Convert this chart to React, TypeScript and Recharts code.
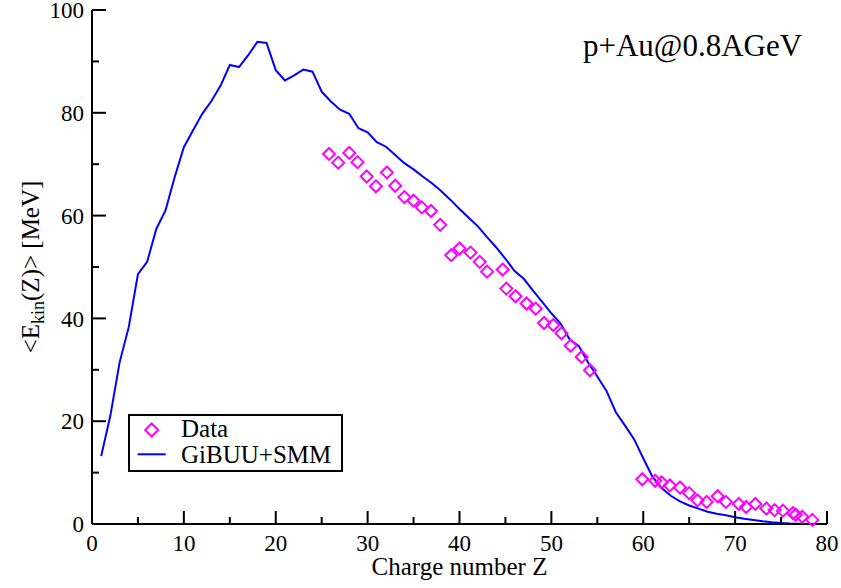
import React from 'react';
import { ComposedChart, Line, Scatter, XAxis, YAxis, Legend, Customized } from 'recharts';

// GiBUU+SMM model curve, one point per charge number
const modelZ = [
  1, 2, 3, 4, 5, 6, 7, 8, 9, 10, 11, 12, 13, 14, 15, 16, 17, 18, 19, 20,
  21, 22, 23, 24, 25, 26, 27, 28, 29, 30, 31, 32, 33, 34, 35, 36, 37, 38, 39, 40,
  41, 42, 43, 44, 45, 46, 47, 48, 49, 50, 51, 52, 53, 54, 55, 56, 57, 58, 59, 60,
  61, 62, 63, 64, 65, 66, 67, 68, 69, 70, 71, 72, 73, 74, 75, 76, 77,
];
const modelE = [
  13.2, 21.1, 31.4, 38.3, 48.6, 51.0, 57.4, 61.0, 67.5, 73.3, 76.6, 79.8, 82.3, 85.3, 89.3, 88.9, 91.2, 93.8, 93.6, 88.3,
  86.3, 87.3, 88.4, 88.0, 84.1, 82.2, 80.6, 79.8, 77.0, 76.2, 74.3, 73.4, 71.8, 70.2, 69.0, 67.6, 66.3, 64.8, 63.1, 61.3,
  59.6, 57.9, 55.8, 53.8, 51.6, 49.2, 47.7, 45.4, 43.2, 41.0, 39.0, 35.9, 34.6, 31.4, 28.7, 25.9, 21.8, 19.2, 16.5, 12.8,
  9.2, 7.0, 5.5, 4.4, 3.6, 3.0, 2.4, 2.0, 1.7, 1.3, 1.0, 0.8, 0.55, 0.35, 0.2, 0.1, 0.05,
];

// measured data
const dataZ = [
  25.8, 26.8, 28.0, 28.9, 29.9, 30.9, 32.1, 33.0, 34.0, 35.0, 35.9, 36.9, 37.9, 39.1, 40.0, 41.2, 42.2, 43.0, 44.7, 45.1,
  46.1, 47.3, 48.3, 49.2, 50.2, 51.1, 52.1, 53.3, 54.2, 59.9, 61.3, 62.0, 62.9, 64.0, 65.0, 65.9, 66.9, 68.1, 69.0, 70.4,
  71.2, 72.2, 73.4, 74.3, 75.2, 76.3, 76.6, 77.3, 78.4,
];
const dataE = [
  72.0, 70.3, 72.2, 70.4, 67.6, 65.7, 68.4, 65.8, 63.6, 62.9, 61.6, 60.9, 58.2, 52.3, 53.6, 52.8, 51.0, 49.1, 49.5, 45.8,
  44.3, 42.9, 41.9, 39.1, 38.7, 37.1, 34.7, 32.5, 29.9, 8.7, 8.4, 8.1, 7.5, 7.1, 6.0, 4.6, 4.3, 5.4, 4.3, 3.9,
  3.3, 3.9, 3.0, 2.7, 2.6, 2.1, 1.8, 1.4, 0.8,
];

const xTicks = [0, 5, 10, 15, 20, 25, 30, 35, 40, 45, 50, 55, 60, 65, 70, 75, 80];
const yTicks = [0, 10, 20, 30, 40, 50, 60, 70, 80, 90, 100];

const modelRows = modelZ.map((z, i) => ({ z, e: modelE[i] }));
const dataRows = dataZ.map((z, i) => ({ z, e: dataE[i] }));

const FONT = '"Liberation Serif", "Times New Roman", serif';
const BLUE = '#0000ff';
const MAGENTA = '#ff00ff';

const Diamond = (props: any) => {
  const { cx, cy } = props;
  const r = 6;
  return (
    <path
      d={`M${cx},${cy - r}L${cx + r},${cy}L${cx},${cy + r}L${cx - r},${cy}Z`}
      fill="none"
      stroke={MAGENTA}
      strokeWidth={2}
    />
  );
};

// inward ticks; major ones get a label
const BottomTick = ({ x, y, payload }: any) => {
  const major = payload.value % 10 === 0;
  return (
    <g>
      <line x1={x} y1={y} x2={x} y2={y - (major ? 13 : 7)} stroke="#000" strokeWidth={2} />
      {major && (
        <text x={x} y={y + 27} textAnchor="middle" fontSize={23} style={{ fontFamily: FONT }} fill="#000">
          {payload.value}
        </text>
      )}
    </g>
  );
};

const TopTick = ({ x, y, payload }: any) => {
  const major = payload.value % 10 === 0;
  return <line x1={x} y1={y} x2={x} y2={y + (major ? 13 : 7)} stroke="#000" strokeWidth={2} />;
};

const LeftTick = ({ x, y, payload }: any) => {
  const major = payload.value % 20 === 0;
  return (
    <g>
      <line x1={x} y1={y} x2={x + (major ? 14 : 7)} y2={y} stroke="#000" strokeWidth={2} />
      {major && (
        <text x={x - 8} y={y} dy="0.355em" textAnchor="end" fontSize={23} style={{ fontFamily: FONT }} fill="#000">
          {payload.value}
        </text>
      )}
    </g>
  );
};

const RightTick = ({ x, y, payload }: any) => {
  const major = payload.value % 20 === 0;
  return <line x1={x} y1={y} x2={x - (major ? 14 : 7)} y2={y} stroke="#000" strokeWidth={2} />;
};

const XLabel = ({ viewBox }: any) => (
  <text
    x={viewBox.x + viewBox.width / 2}
    y={viewBox.y + 51}
    textAnchor="middle"
    fontSize={25}
    style={{ fontFamily: FONT }}
    fill="#000"
  >
    Charge number Z
  </text>
);

const YLabel = ({ viewBox }: any) => {
  const cx = viewBox.x + 39;
  const cy = viewBox.y + viewBox.height / 2;
  return (
    <text
      x={cx}
      y={cy}
      transform={`rotate(-90 ${cx} ${cy})`}
      textAnchor="middle"
      fontSize={25}
      style={{ fontFamily: FONT }}
      fill="#000"
    >
      {'<E'}
      <tspan dy={5} fontSize={18}>kin</tspan>
      <tspan dy={-5}>{'(Z)> [MeV]'}</tspan>
    </text>
  );
};

const LegendBox = () => (
  <svg width={215} height={58} style={{ display: 'block' }}>
    <rect x={1} y={1} width={213} height={56} fill="#fff" stroke="#000" strokeWidth={2} />
    <path d="M23.7,9.5L30.2,16L23.7,22.5L17.2,16Z" fill="none" stroke={MAGENTA} strokeWidth={2} />
    <text x={53} y={23} fontSize={25} style={{ fontFamily: FONT }} fill="#000">Data</text>
    <line x1={9.7} y1={40.3} x2={37.7} y2={40.3} stroke={BLUE} strokeWidth={2} />
    <text x={53} y={49} fontSize={25} style={{ fontFamily: FONT }} fill="#000">GiBUU+SMM</text>
  </svg>
);

export default function App() {
  return (
    <div style={{ position: 'absolute', left: 0, top: 0, background: '#fff' }}>
      <ComposedChart width={841} height={588} margin={{ top: 10, right: 14, bottom: 0, left: 0 }}>
        <XAxis
          xAxisId="x"
          type="number"
          dataKey="z"
          domain={[0, 80]}
          ticks={xTicks}
          interval={0}
          height={64}
          tickSize={0}
          tickMargin={0}
          tick={<BottomTick />}
          tickLine={false}
          axisLine={{ stroke: '#000', strokeWidth: 2 }}
          label={<XLabel />}
        />
        <XAxis
          xAxisId="top"
          orientation="top"
          type="number"
          domain={[0, 80]}
          ticks={xTicks}
          interval={0}
          height={0}
          tickSize={0}
          tickMargin={0}
          tick={<TopTick />}
          tickLine={false}
          axisLine={{ stroke: '#000', strokeWidth: 2 }}
        />
        <YAxis
          yAxisId="y"
          type="number"
          dataKey="e"
          domain={[0, 100]}
          ticks={yTicks}
          interval={0}
          width={92}
          tickSize={0}
          tickMargin={0}
          tick={<LeftTick />}
          tickLine={false}
          axisLine={{ stroke: '#000', strokeWidth: 2 }}
          label={<YLabel />}
        />
        <YAxis
          yAxisId="right"
          orientation="right"
          type="number"
          domain={[0, 100]}
          ticks={yTicks}
          interval={0}
          width={0}
          tickSize={0}
          tickMargin={0}
          tick={<RightTick />}
          tickLine={false}
          axisLine={{ stroke: '#000', strokeWidth: 2 }}
        />
        <Line
          xAxisId="x"
          yAxisId="y"
          data={modelRows}
          dataKey="e"
          type="linear"
          stroke={BLUE}
          strokeWidth={2}
          dot={false}
          isAnimationActive={false}
        />
        <Scatter
          xAxisId="x"
          yAxisId="y"
          data={dataRows}
          dataKey="e"
          shape={<Diamond />}
          isAnimationActive={false}
        />
        <Customized
          component={() => (
            <text x={583} y={56} fontSize={31} style={{ fontFamily: FONT }} fill="#000">
              p+Au@0.8AGeV
            </text>
          )}
        />
        <Legend
          layout="vertical"
          align="center"
          verticalAlign="middle"
          wrapperStyle={{ left: 128, top: 414, width: 215, height: 58 }}
          content={() => <LegendBox />}
        />
      </ComposedChart>
    </div>
  );
}
